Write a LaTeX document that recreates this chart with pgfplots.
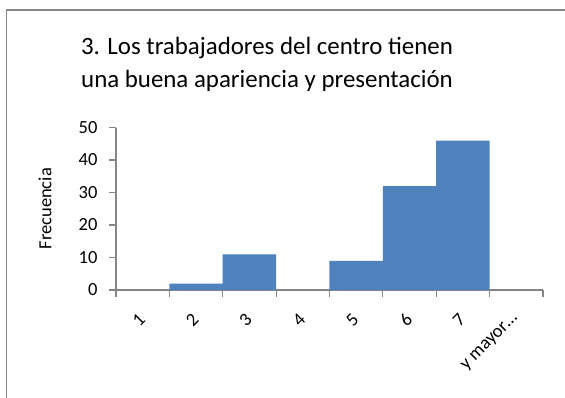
\documentclass[border=0pt]{standalone}
\usepackage{pgfplots}
\pgfplotsset{compat=1.18}
\usepackage{fontspec}
\setmainfont{Carlito}
\definecolor{barblue}{RGB}{79,129,189}
\definecolor{axisgray}{RGB}{134,134,134}
\definecolor{framegray}{RGB}{134,134,134}
\begin{document}
\begin{tikzpicture}[x=1pt,y=1pt]
\useasboundingbox (0,0) rectangle (565,397);
\draw[framegray, line width=1.8pt] (6.5,-5) -- (6.5,387) -- (575,387);
\node[align=center, font=\fontsize{24.9}{33}\selectfont] at (267,333) {3. Los trabajadores del centro tienen\\una buena apariencia y presentación};
\begin{axis}[
  at={(116pt,107pt)}, anchor=south west,
  scale only axis, width=427pt, height=162.5pt,
  xmin=-0.5, xmax=7.5, ymin=0, ymax=50,
  axis x line=bottom, axis y line=left,
  axis line style={-, draw=axisgray, line width=1.2pt},
  ytick={0,10,20,30,40,50},
  xtick={0,1,2,3,4,5,6,7},
  xticklabels={1,2,3,4,5,6,7,{y mayor…}},
  minor xtick={-0.5,0.5,1.5,2.5,3.5,4.5,5.5,6.5,7.5},
  tick align=outside,
  major tick length=7pt, minor tick length=7pt,
  tick style={draw=axisgray, line width=1.2pt},
  major x tick style={draw=none},
  /pgf/number format/assume math mode=true,
  ticklabel style={font=\fontsize{18.5}{22}\selectfont},
  yticklabel style={xshift=-8pt},
  xticklabel style={rotate=45, anchor=east, xshift=-10.6pt, yshift=-13.4pt},
  ylabel={Frecuencia},
  ylabel style={font=\fontsize{18.5}{22}\selectfont, at={(axis description cs:-0.166,0.5)}, anchor=center},
  ybar, bar width=1, bar shift=0,
]
\addplot[fill=barblue, draw=none] coordinates {(0,0) (1,2) (2,11) (3,0) (4,9) (5,32) (6,46) (7,0)};
\end{axis}
\end{tikzpicture}
\end{document}
